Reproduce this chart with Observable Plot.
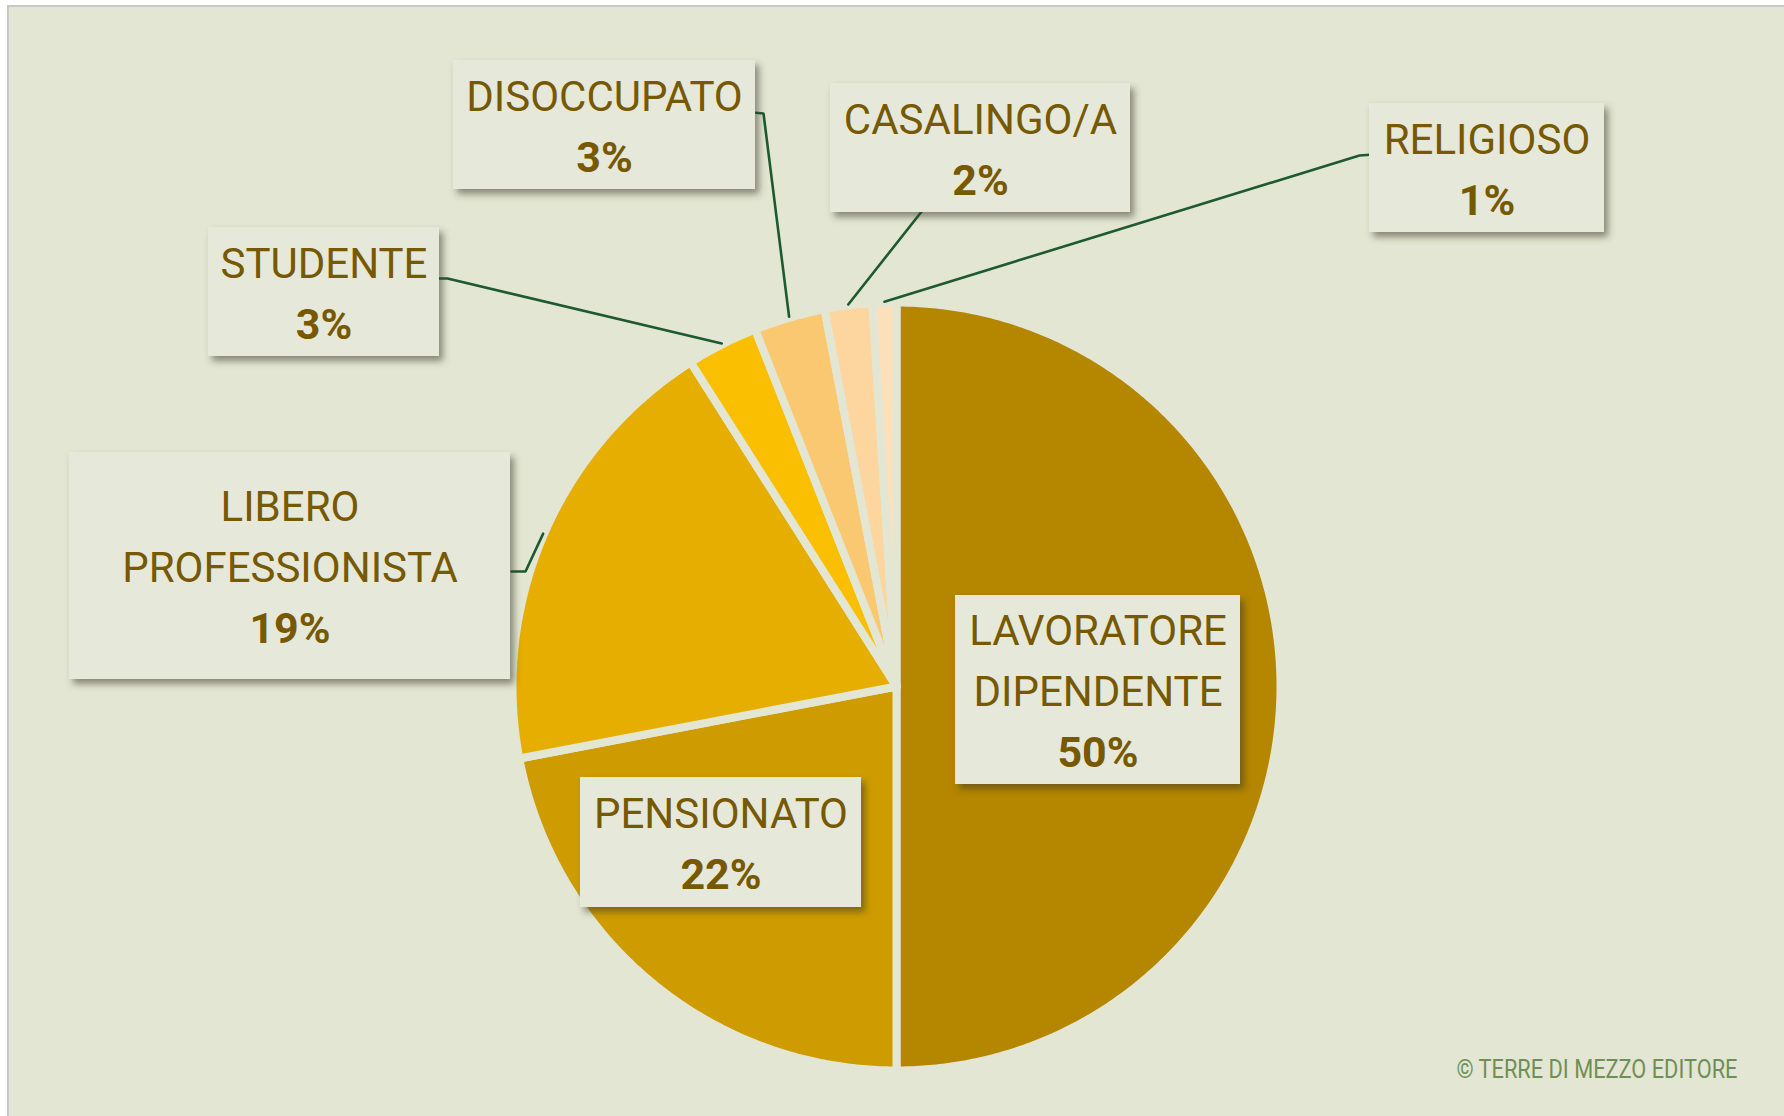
<!DOCTYPE html>
<html>
<head>
<meta charset="utf-8">
<script src="https://cdn.jsdelivr.net/npm/d3@7"></script>
<script src="https://cdn.jsdelivr.net/npm/@observablehq/plot@0.6"></script>
<style>
  html, body { margin: 0; padding: 0; background: #ffffff; }
  #chart svg { display: block; }
</style>
</head>
<body>
<div id="chart"></div>
<script>
// ---------- DATA ----------
const categories = ["LAVORATORE DIPENDENTE", "PENSIONATO", "LIBERO PROFESSIONISTA", "STUDENTE", "DISOCCUPATO", "CASALINGO/A", "RELIGIOSO"];
const values = [50, 22, 19, 3, 3, 2, 1];
const labelLines = [["LAVORATORE", "DIPENDENTE"], ["PENSIONATO"], ["LIBERO", "PROFESSIONISTA"], ["STUDENTE"], ["DISOCCUPATO"], ["CASALINGO/A"], ["RELIGIOSO"]];
const sliceColors = ["#B58600", "#CE9C00", "#E6AE00", "#F9BF00", "#FAC870", "#FCD69E", "#FDE0BA"];
const credit = "© TERRE DI MEZZO EDITORE";

// ---------- LAYOUT / STYLE ----------
const W = 1784, H = 1116;
const bg = "#E3E6D3";
const boxFill = "#E6E8DA";
const textColor = "#765900";
const leaderColor = "#1D5A30";
const pie = {cx: 896, cy: 686, r: 384, leaderR: 385};
const boxes = [
  {x1: 955, y1: 595, x2: 1240, y2: 784},
  {x1: 580, y1: 777, x2: 861, y2: 907},
  {x1: 69, y1: 452, x2: 510, y2: 679},
  {x1: 208, y1: 227, x2: 439, y2: 356},
  {x1: 453, y1: 60, x2: 755, y2: 189},
  {x1: 830, y1: 83, x2: 1130, y2: 212},
  {x1: 1369, y1: 103, x2: 1604, y2: 232}
];
// leader line start + elbow (on the label side); null = no leader
const leaderStarts = [
  null,
  null,
  [[511, 571], [525, 571]],
  [[439, 278], [447, 278]],
  [[752, 112], [763, 113]],
  [[946, 196], [933, 196]],
  [[1373, 154], [1359, 155]]
];
const frame = {x1: 8, y1: 6, x2: W + 20, y2: H + 20};
const creditPos = {x: 1456, y: 1077, length: 281};

// ---------- DERIVED GEOMETRY ----------
const total = d3.sum(values);
const polar = (a, r) => ({x: pie.cx + r * Math.sin(a), y: pie.cy - r * Math.cos(a)});
let acc = 0;
const slices = values.map((v, i) => {
  const a0 = acc / total * 2 * Math.PI;
  acc += v;
  const a1 = acc / total * 2 * Math.PI;
  return {name: categories[i], a0, a1, mid: (a0 + a1) / 2};
});
const slicePts = [];
for (const s of slices) {
  slicePts.push({name: s.name, x: pie.cx, y: pie.cy});
  const n = Math.max(2, Math.ceil((s.a1 - s.a0) / (Math.PI / 360)));
  for (let k = 0; k <= n; k++) {
    const a = s.a0 + (s.a1 - s.a0) * k / n;
    const p = polar(a, pie.r);
    slicePts.push({name: s.name, x: p.x, y: p.y});
  }
  slicePts.push({name: s.name, x: pie.cx, y: pie.cy});
}
const leaderPts = [];
slices.forEach((s, i) => {
  const st = leaderStarts[i];
  if (!st) return;
  st.forEach(([x, y]) => leaderPts.push({name: s.name, x, y}));
  const e = polar(s.mid, pie.leaderR);
  leaderPts.push({name: s.name, x: e.x, y: e.y});
});
const boxData = boxes.map((b, i) => ({...b, name: categories[i]}));
const nameRows = [], pctRows = [];
const lineGap = 61;
boxes.forEach((b, i) => {
  const lines = [...labelLines[i], `${values[i]}%`];
  const n = lines.length;
  const cx = (b.x1 + b.x2) / 2;
  const mid = (b.y1 + b.y2) / 2 + 16;
  lines.forEach((t, j) => {
    const row = {x: cx, y: mid + (j - (n - 1) / 2) * lineGap, text: t};
    (j === n - 1 ? pctRows : nameRows).push(row);
  });
});

// ---------- PLOT ----------
const chart = Plot.plot({
  width: W,
  height: H,
  margin: 0,
  x: {domain: [0, W], range: [0, W], axis: null},
  y: {domain: [0, H], range: [0, H], axis: null},
  color: {domain: categories, range: sliceColors},
  style: {background: "#ffffff", fontFamily: "Roboto, 'Open Sans', sans-serif"},
  marks: [
    Plot.rect([frame], {x1: "x1", y1: "y1", x2: "x2", y2: "y2", fill: bg, stroke: "#C8C8C8", strokeWidth: 2}),
    Plot.line(slicePts, {x: "x", y: "y", z: "name", fill: "name", stroke: bg, strokeWidth: 8, strokeLinejoin: "round", curve: "linear"}),
    Plot.line(leaderPts, {x: "x", y: "y", z: "name", stroke: leaderColor, strokeWidth: 2.6, strokeLinejoin: "miter"}),
    Plot.rect(boxData, {x1: "x1", y1: "y1", x2: "x2", y2: "y2", fill: boxFill}),
    Plot.text(nameRows, {x: "x", y: "y", text: "text", fill: textColor, fontSize: 42, fontWeight: 400, textAnchor: "middle", lineAnchor: "bottom"}),
    Plot.text(pctRows, {x: "x", y: "y", text: "text", fill: textColor, fontSize: 43, fontWeight: 700, textAnchor: "middle", lineAnchor: "bottom"}),
    Plot.text([creditPos], {x: "x", y: "y", text: () => credit, fill: "#6F8F56", fontSize: 25, fontWeight: 400, textAnchor: "start", lineAnchor: "bottom"})
  ]
});

// drop shadow for label boxes + condensed credit text
const svg = d3.select(chart);
const defs = svg.insert("defs", ":first-child");
const f = defs.append("filter").attr("id", "boxShadow").attr("x", "-10%").attr("y", "-10%").attr("width", "130%").attr("height", "140%");
f.append("feDropShadow").attr("dx", 4).attr("dy", 5).attr("stdDeviation", 3.5).attr("flood-color", "#3a3a2a").attr("flood-opacity", 0.55);
const rectGroups = svg.selectAll("g[aria-label='rect']").nodes();
if (rectGroups.length > 1) d3.select(rectGroups[rectGroups.length - 1]).selectAll("rect").attr("filter", "url(#boxShadow)");
svg.selectAll("text").filter(function () { return this.textContent === credit; })
  .attr("textLength", creditPos.length).attr("lengthAdjust", "spacingAndGlyphs");

document.getElementById("chart").appendChild(chart);
</script>
</body>
</html>
